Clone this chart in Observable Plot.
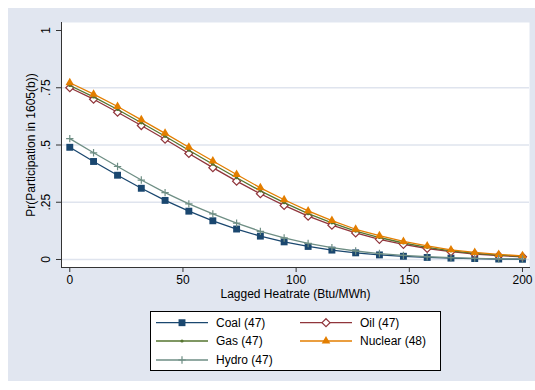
<!DOCTYPE html>
<html><head><meta charset="utf-8">
<script src="https://cdn.jsdelivr.net/npm/d3@7"></script>
<script src="https://cdn.jsdelivr.net/npm/@observablehq/plot@0.6"></script>
<style>
body{margin:0;background:#fff;font-family:"Liberation Sans",Arial,sans-serif;}
#wrap{position:relative;width:535px;height:390px;overflow:hidden;}
#bg{position:absolute;left:8px;top:8px;width:527px;height:373px;background:#e1e6f0;}
#chart{position:absolute;left:0;top:0;}
#legend{position:absolute;left:150px;top:311px;width:289px;height:58px;border:1px solid #000;background:#fff;}
#legend svg{position:absolute;left:0;top:0;}
</style></head>
<body><div id="wrap"><div id="bg"></div><div id="chart"></div><div id="legend"></div></div>
<script>
const heatrate = [0, 10.5, 21.1, 31.6, 42.1, 52.6, 63.2, 73.7, 84.2, 94.7, 105.3, 115.8, 126.3, 136.8, 147.4, 157.9, 168.4, 178.9, 189.5, 200];
const coal    = [0.490, 0.428, 0.368, 0.311, 0.258, 0.211, 0.169, 0.133, 0.102, 0.077, 0.057, 0.041, 0.029, 0.020, 0.014, 0.009, 0.006, 0.004, 0.002, 0.001];
const oil     = [0.750, 0.700, 0.643, 0.585, 0.525, 0.463, 0.401, 0.342, 0.287, 0.236, 0.189, 0.150, 0.116, 0.088, 0.066, 0.048, 0.034, 0.024, 0.017, 0.012];
const gas     = [0.760, 0.710, 0.655, 0.597, 0.538, 0.477, 0.416, 0.357, 0.300, 0.248, 0.200, 0.160, 0.124, 0.096, 0.072, 0.053, 0.038, 0.027, 0.019, 0.014];
const nuclear = [0.772, 0.722, 0.668, 0.610, 0.551, 0.490, 0.430, 0.371, 0.313, 0.261, 0.212, 0.170, 0.132, 0.104, 0.079, 0.059, 0.042, 0.031, 0.022, 0.016];
const hydro   = [0.528, 0.466, 0.406, 0.347, 0.292, 0.243, 0.199, 0.159, 0.123, 0.094, 0.070, 0.052, 0.037, 0.026, 0.018, 0.012, 0.008, 0.005, 0.003, 0.002];
const seriesNames = ["Coal (47)", "Oil (47)", "Gas (47)", "Nuclear (48)", "Hydro (47)"];
const xTicks = [0, 50, 100, 150, 200];
const yTicks = [0, 0.25, 0.5, 0.75, 1];
const yTickLabels = ["0", ".25", ".5", ".75", "1"];
const gridTicks = [0, 0.25, 0.5, 0.75];
const xTitle = "Lagged Heatrate (Btu/MWh)";
const yTitle = "Pr(Participation in 1605(b))";

const styles = [
  {color: "#1a476f", symbol: "square",   r: 3.9, fill: "#1a476f", stroke: "none"},
  {color: "#90353b", symbol: "diamond2", r: 3.6, fill: "white",   stroke: "#90353b"},
  {color: "#55752f", symbol: "circle",   r: 1.6, fill: "#55752f", stroke: "none"},
  {color: "#e37e00", symbol: "triangle", r: 3.2, fill: "#e37e00", stroke: "none"},
  {color: "#6e8e84", symbol: "plus",     r: 2.5, fill: "none",    stroke: "#6e8e84"}
];
const seriesValues = [coal, oil, gas, nuclear, hydro];
const rows = [];
seriesValues.forEach((vals, s) => vals.forEach((v, i) => rows.push({series: s, x: heatrate[i], y: v})));

const marks = [
  Plot.frame({fill: "white", stroke: null}),
  Plot.gridY(gridTicks, {stroke: "#dfe4ee", strokeOpacity: 1, strokeWidth: 1.5}),
  Plot.axisY({ticks: yTicks, tickSize: 5, tickFormat: () => "", stroke: "#333", label: null}),
  Plot.text(yTicks, {y: d => d, text: (d, i) => yTickLabels[i], frameAnchor: "left", dx: -15, rotate: -90, textAnchor: "middle", fontSize: 12, fill: "#000"}),
  Plot.axisX({ticks: xTicks, tickSize: 5, tickPadding: 3, fontSize: 12, stroke: "#333", label: null, tickFormat: d => String(d)}),
  Plot.frame({anchor: "left", stroke: "#333"}),
  Plot.frame({anchor: "bottom", stroke: "#333"}),
  Plot.text([xTitle], {frameAnchor: "bottom", dy: 30, fontSize: 12, fill: "#000"}),
  Plot.text([yTitle], {frameAnchor: "left", dx: -30, rotate: -90, textAnchor: "middle", fontSize: 12, fill: "#000"})
];
styles.forEach((st, s) => {
  const data = rows.filter(d => d.series === s);
  marks.push(Plot.line(data, {x: "x", y: "y", stroke: st.color, strokeWidth: 1.3}));
  marks.push(Plot.dot(data, {x: "x", y: "y", symbol: st.symbol, r: st.r, fill: st.fill, stroke: st.stroke, strokeWidth: 1.2}));
});

const chart = Plot.plot({
  width: 535, height: 305,
  marginLeft: 61, marginRight: 6, marginTop: 22, marginBottom: 38,
  style: {background: "transparent", fontFamily: "'Liberation Sans', Arial, sans-serif", fontSize: "12px", color: "#000"},
  x: {domain: [-3.66, 203.1], label: null},
  y: {domain: [-0.035, 1.035], label: null},
  marks
});
document.getElementById("chart").appendChild(chart);

// legend
const lg = d3.select("#legend").append("svg").attr("width", 289).attr("height", 58)
  .style("font-family", "'Liberation Sans', Arial, sans-serif").style("font-size", "12px");
const pos = [[0, 0], [1, 0], [0, 1], [1, 1], [0, 2]];
const symMap = {square: d3.symbolSquare, diamond2: d3.symbolDiamond2, circle: d3.symbolCircle, triangle: d3.symbolTriangle, plus: d3.symbolPlus};
styles.forEach((st, s) => {
  const [c, r] = pos[s];
  const x0 = c === 0 ? 5 : 149;
  const y0 = [10.7, 29, 48][r];
  const g = lg.append("g");
  g.append("line").attr("x1", x0).attr("x2", x0 + 52).attr("y1", y0).attr("y2", y0).attr("stroke", st.color).attr("stroke-width", 1.3);
  g.append("path").attr("transform", `translate(${x0 + 26},${y0})`)
    .attr("d", d3.symbol(symMap[st.symbol], Math.PI * st.r * st.r)())
    .attr("fill", st.fill).attr("stroke", st.stroke).attr("stroke-width", 1.2);
  g.append("text").attr("x", x0 + 60).attr("y", y0).attr("dy", "0.35em").text(seriesNames[s]);
});
</script>
</body></html>
